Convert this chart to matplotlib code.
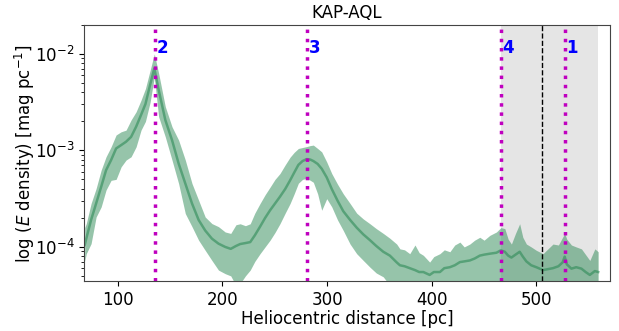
import matplotlib
matplotlib.use("Agg")
import matplotlib.pyplot as plt
import numpy as np

# distance samples [pc] and log10 of extinction density (median, upper, lower)
dist = [68.5, 70, 74.6, 79.4, 84.2, 88.9, 93.7, 98.5, 103.3, 108, 112.8,
        117.6, 122.3, 126.5, 131, 135, 139.1, 145.5, 151.9, 158.2, 164.6, 171,
        177.3, 183.6, 190, 196.3, 202.7, 208, 213, 217, 222, 226.6, 231, 236,
        240.8, 245.6, 250.3, 255, 260, 264.7, 268.6, 272.6, 276.6, 280.6, 284,
        286.9, 291, 294.9, 299.7, 304.5, 310, 315.5, 322, 328.3, 334.6, 341,
        347, 353.7, 360, 366.5, 369.6, 374, 379, 384, 388, 392, 398, 402,
        407.8, 412, 417.3, 422, 426.9, 431, 436.4, 441, 445.9, 450, 455.5,
        461.8, 466, 469.8, 473, 476.1, 480, 484, 487, 490.4, 495, 499.9, 506.3,
        511, 515.8, 521, 525, 527, 529, 533.4, 538, 543, 547, 551, 555.8, 559]
log_med = [-3.98, -3.914, -3.72, -3.55, -3.378, -3.205, -3.10, -2.98, -2.945,
           -2.91, -2.86, -2.755, -2.633, -2.52, -2.32, -2.15, -2.37, -2.685,
           -2.893, -3.135, -3.343, -3.55, -3.72, -3.83, -3.914, -3.966, -4.0,
           -4.02, -3.99, -3.97, -3.96, -3.95, -3.88, -3.79, -3.70, -3.62, -3.55,
           -3.48, -3.40, -3.31, -3.23, -3.15, -3.11, -3.09, -3.095, -3.11,
           -3.14, -3.19, -3.28, -3.40, -3.52, -3.63, -3.72, -3.80, -3.87, -3.93,
           -3.99, -4.05, -4.09, -4.16, -4.19, -4.20, -4.22, -4.24, -4.26, -4.26,
           -4.29, -4.26, -4.26, -4.22, -4.21, -4.19, -4.157, -4.15, -4.14,
           -4.12, -4.09, -4.08, -4.07, -4.06, -4.035, -4.05, -4.09, -4.11,
           -4.08, -4.05, -4.10, -4.15, -4.19, -4.21, -4.24, -4.23, -4.22, -4.20,
           -4.16, -4.10, -4.18, -4.225, -4.21, -4.225, -4.26, -4.29, -4.25,
           -4.26]
log_up = [-3.80, -3.758, -3.55, -3.395, -3.205, -3.066, -2.963, -2.84, -2.807,
          -2.79, -2.685, -2.60, -2.48, -2.36, -2.17, -2.0, -2.20, -2.547,
          -2.755, -2.893, -3.10, -3.343, -3.516, -3.69, -3.758, -3.79, -3.845,
          -3.86, -3.77, -3.76, -3.78, -3.76, -3.65, -3.55, -3.46, -3.38, -3.30,
          -3.24, -3.15, -3.07, -3.02, -2.98, -2.97, -2.96, -2.95, -2.945,
          -2.98, -3.015, -3.12, -3.24, -3.35, -3.45, -3.55, -3.65, -3.71,
          -3.76, -3.81, -3.86, -3.91, -3.97, -4.02, -4.03, -4.07, -3.98, -4.06,
          -4.087, -4.157, -4.10, -4.07, -4.03, -4.05, -3.98, -3.95, -4.0,
          -3.97, -3.93, -3.90, -3.93, -3.88, -3.845, -3.80, -3.81, -3.92,
          -3.97, -3.86, -3.76, -3.90, -3.97, -4.00, -4.035, -4.07, -4.02,
          -3.97, -3.98, -3.90, -3.86, -3.92, -3.98, -4.00, -4.02, -4.08, -4.14,
          -4.02, -4.05]
log_low = [-4.15, -4.07, -3.966, -3.69, -3.586, -3.41, -3.31, -3.30, -3.17,
           -3.10, -3.066, -2.963, -2.79, -2.70, -2.50, -2.24, -2.65, -2.86,
           -3.10, -3.343, -3.654, -3.79, -3.93, -4.035, -4.14, -4.24, -4.277,
           -4.30, -4.40, -4.38, -4.30, -4.24, -4.15, -4.07, -4.00, -3.93, -3.85,
           -3.76, -3.65, -3.55, -3.45, -3.34, -3.30, -3.29, -3.31, -3.33, -3.45,
           -3.62, -3.50, -3.585, -3.72, -3.83, -3.97, -4.07, -4.14, -4.21,
           -4.27, -4.31, -4.40, -4.6, -4.6, -4.6, -4.6, -4.6, -4.6, -4.6, -4.6,
           -4.6, -4.6, -4.6, -4.6, -4.6, -4.6, -4.6, -4.6, -4.6, -4.6, -4.6,
           -4.6, -4.6, -4.6, -4.6, -4.6, -4.6, -4.6, -4.6, -4.6, -4.6, -4.6,
           -4.6, -4.6, -4.6, -4.6, -4.6, -4.6, -4.6, -4.6, -4.6, -4.6, -4.6,
           -4.6, -4.6, -4.6, -4.6]

# cloud distances and labels
cloud_dist = [527, 135.3, 281.2, 466]
cloud_lab = ["1", "2", "3", "4"]
reliable_limit = 505.5
span_lo, span_hi = 466, 559

title = "KAP-AQL"

fig, ax = plt.subplots(figsize=(6.19, 3.31), dpi=100)
fig.subplots_adjust(left=0.136, right=0.985, top=0.925, bottom=0.15)

med = 10 ** np.array(log_med)
up = 10 ** np.array(log_up)
low = 10 ** np.array(log_low)

ax.axvspan(span_lo, span_hi, color="gray", alpha=0.2, lw=0)
ax.fill_between(dist, low, up, color="seagreen", alpha=0.5, lw=0)
ax.plot(dist, med, color="seagreen", alpha=0.6, lw=1.8)

for d, lab in zip(cloud_dist, cloud_lab):
    ax.axvline(d, color="m", ls=":", lw=2.5)
    ax.text(d + 1.5, 1.15e-2, lab, color="blue", fontweight="bold",
            fontsize=12, ha="left", va="center")
ax.axvline(reliable_limit, color="k", ls="--", lw=1)

ax.set_yscale("log")
ax.set_xlim(68, 570)
ax.set_ylim(4.4e-5, 2.0e-2)
ax.set_xticks([100, 200, 300, 400, 500])
ax.tick_params(labelsize=12)
for s in ax.spines.values():
    s.set_color("#444444")
ax.set_title(title, fontsize=12, pad=5)
ax.set_xlabel("Heliocentric distance [pc]", fontsize=12, labelpad=1)
ax.set_ylabel(r"log ($E$ density) [mag pc$^{-1}$]", fontsize=12,
              labelpad=-2)

plt.savefig("out.png", dpi=100)
plt.close()
